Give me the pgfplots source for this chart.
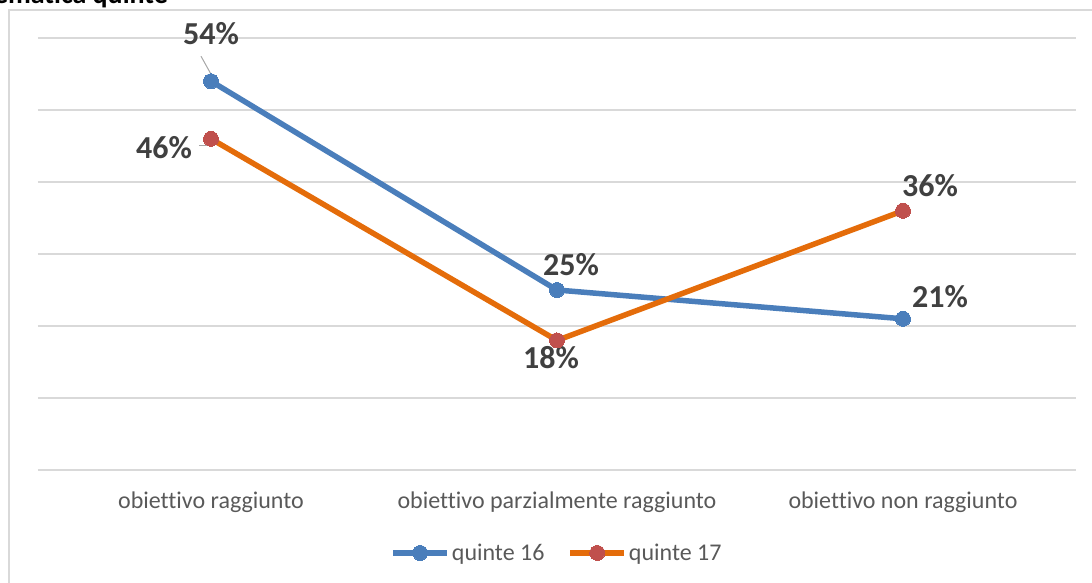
\documentclass[border=0pt]{standalone}
\usepackage{fontspec}
\setmainfont{Carlito}[Ligatures=NoCommon]
\usepackage{pgfplots}
\pgfplotsset{compat=1.18}
\definecolor{cblue}{HTML}{4A7EBB}
\definecolor{corange}{HTML}{E46C0A}
\definecolor{cred}{HTML}{C0504D}
\definecolor{cgrid}{HTML}{D9D9D9}
\definecolor{ctext}{HTML}{404040}
\definecolor{clab}{HTML}{595959}
\begin{document}
\begin{tikzpicture}[x=1pt,y=1pt]
\useasboundingbox (0,0) rectangle (1092,582);
\draw[cgrid, line width=1.5pt] (9,-5) -- (9,572) -- (1100,572);
\node[anchor=base east, inner sep=0pt, font=\fontsize{28}{32}\selectfont\bfseries] at (168,578) {Risultati matematica quinte};
\begin{axis}[
  at={(38pt,112pt)}, anchor=south west,
  width=1038pt, height=432pt, scale only axis,
  xmin=-0.5, xmax=2.5, ymin=0, ymax=60,
  axis line style={draw=none},
  ytick={0,10,...,60}, yticklabels={},
  ymajorgrids, grid style={cgrid, line width=1.5pt},
  xtick={0,1,2},
  xticklabels={obiettivo raggiunto, obiettivo parzialmente raggiunto, obiettivo non raggiunto},
  major tick length=0pt,
  xticklabel style={font=\fontsize{24}{28}\selectfont, text=clab, anchor=base, inner sep=0pt, yshift=-38pt},
  clip=false,
  legend columns=2,
  legend style={at={(0.5,-0.192)}, anchor=center, draw=none, fill=none,
    font=\fontsize{24}{28}\selectfont, text=clab,
    /tikz/every even column/.append style={column sep=21pt},
    /tikz/every odd column/.append style={inner xsep=0pt},
    inner sep=0pt},
  legend image code/.code={\draw[mark repeat=2,mark phase=2,#1] plot coordinates {(0pt,0pt) (27pt,0pt) (54pt,0pt)};},
]
\addplot[cblue, line width=5.5pt, mark=*, mark size=7.5pt, mark options={fill=cblue, draw=cblue, line width=0pt}]
  coordinates {(0,54) (1,25) (2,21)};
\addlegendentry{quinte 16}
\addplot[corange, line width=5.5pt, mark=*, mark size=7.5pt, mark options={fill=cred, draw=cred, line width=0pt}]
  coordinates {(0,46) (1,18) (2,36)};
\addlegendentry{quinte 17}
\draw[gray!70, line width=1pt] ([shift={(-10pt,25pt)}]axis cs:0,54) -- ([shift={(0pt,7pt)}]axis cs:0,54);
\draw[gray!70, line width=1pt] ([shift={(-12pt,-7pt)}]axis cs:0,46) -- ([shift={(0pt,-7pt)}]axis cs:0,46);
\tikzset{lbl/.style={font=\fontsize{32}{36}\selectfont\bfseries, text=ctext, inner sep=0pt}}
\node[lbl] at ([shift={(0pt,48pt)}]axis cs:0,54) {54\%};
\node[lbl] at ([shift={(-47pt,-9pt)}]axis cs:0,46) {46\%};
\node[lbl] at ([shift={(14pt,25pt)}]axis cs:1,25) {25\%};
\node[lbl] at ([shift={(-6pt,-17pt)}]axis cs:1,18) {18\%};
\node[lbl] at ([shift={(27pt,25pt)}]axis cs:2,36) {36\%};
\node[lbl] at ([shift={(37pt,22pt)}]axis cs:2,21) {21\%};
\end{axis}
\end{tikzpicture}
\end{document}
